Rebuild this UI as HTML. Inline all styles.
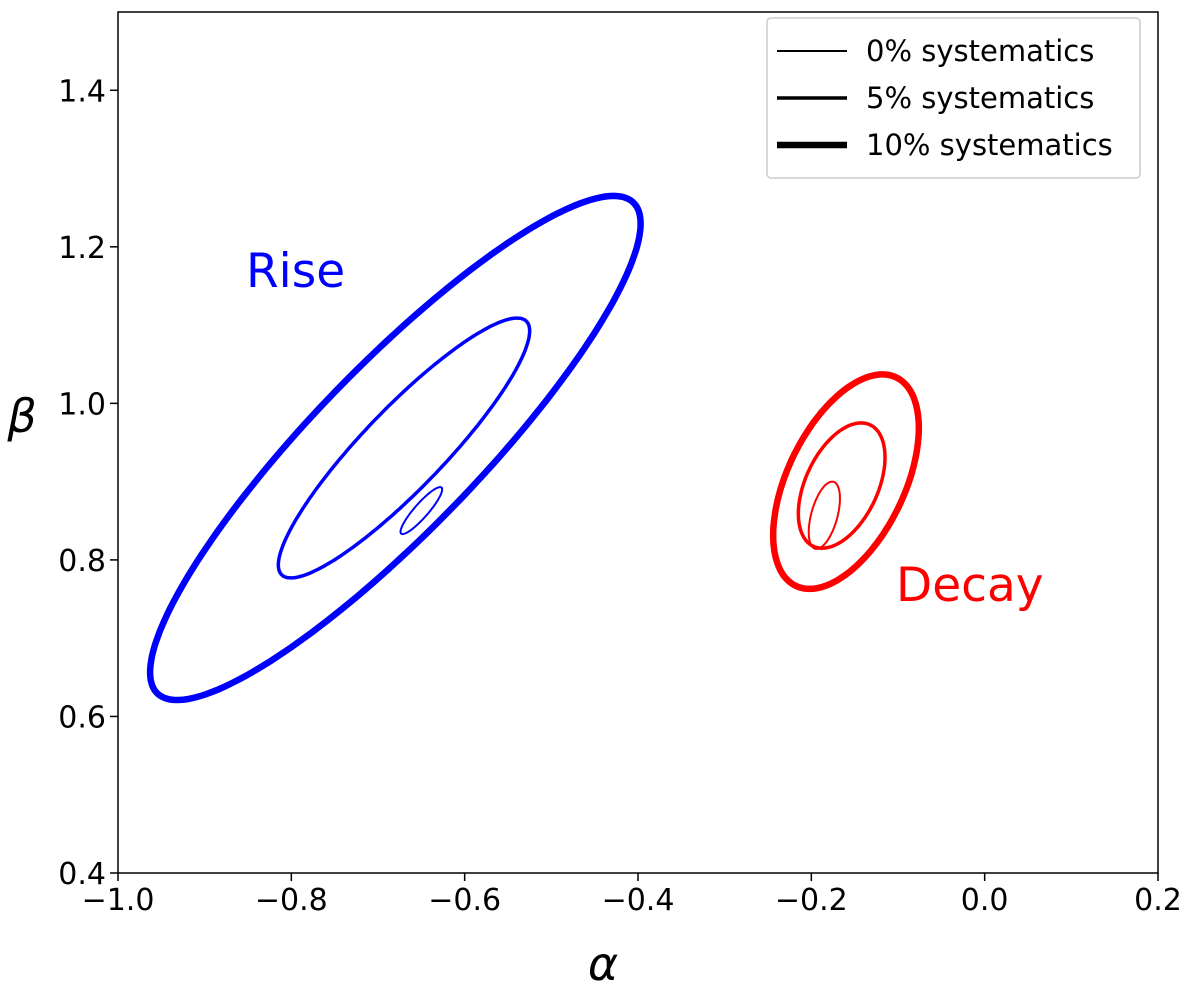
<!DOCTYPE html>
<html><head><meta charset="utf-8"><style>
body{margin:0;background:#fff}
svg text{font-family:"DejaVu Sans","Liberation Sans",sans-serif}
</style></head><body>
<svg id="c" width="1200" height="995" xmlns="http://www.w3.org/2000/svg"></svg>
<script>
const xTicks=[-1.0,-0.8,-0.6,-0.4,-0.2,0.0,0.2];
const xTickLabels=["\u22121.0","\u22120.8","\u22120.6","\u22120.4","\u22120.2","0.0","0.2"];
const yTicks=[0.4,0.6,0.8,1.0,1.2,1.4];
const yTickLabels=["0.4","0.6","0.8","1.0","1.2","1.4"];
const ellNames=["rise-10pct","rise-5pct","rise-0pct","decay-10pct","decay-5pct","decay-0pct"];
const ellCx=[-0.68,-0.67,-0.65,-0.16,-0.165,-0.185];
const ellCy=[0.943,0.943,0.863,0.90,0.895,0.857];
const ellSx=[0.283,0.145,0.024,0.084,0.05,0.018];
const ellSy=[0.322,0.166,0.030,0.137,0.08,0.043];
const ellRho=[0.89,0.90,0.90,0.5,0.45,0.5];
const ellSys=[10,5,0,10,5,0];
const ellColor=["#0000ff","#0000ff","#0000ff","#ff0000","#ff0000","#ff0000"];
const legendLabels=["0% systematics","5% systematics","10% systematics"];
const widthFor={0:2,5:3.5,10:6.5};

const L=118,R=1158,T=12,B=873;
const X=v=>L+(v-(-1.0))/(1.2)*(R-L);
const Y=v=>B-(v-0.4)/(1.1)*(B-T);
const svg=document.getElementById('c');
const NS="http://www.w3.org/2000/svg";
function mk(tag,attrs,parent){const e=document.createElementNS(NS,tag);for(const k in attrs)e.setAttribute(k,attrs[k]);(parent||svg).appendChild(e);return e;}

const clip=mk('clipPath',{id:'pc'});mk('rect',{x:L,y:T,width:R-L,height:B-T},clip);
const g=mk('g',{'clip-path':'url(#pc)'});


for(let i=0;i<ellCx.length;i++){
  let d='';
  for(let k=0;k<=200;k++){const t=k/200*2*Math.PI;
    const x=ellCx[i]+ellSx[i]*Math.cos(t);
    const y=ellCy[i]+ellSy[i]*(ellRho[i]*Math.cos(t)+Math.sqrt(1-ellRho[i]*ellRho[i])*Math.sin(t));
    d+=(k?'L':'M')+X(x).toFixed(1)+','+Y(y).toFixed(1);}
  const p=mk('path',{d:d+'Z',fill:'none',stroke:ellColor[i],'stroke-width':widthFor[ellSys[i]]},g);
  
  
}
const frame=mk('rect',{x:L,y:T,width:R-L,height:B-T,fill:'none',stroke:'#000','stroke-width':1.5});


xTicks.forEach((v,i)=>{
  mk('line',{x1:X(v),x2:X(v),y1:B,y2:B+8,stroke:'#000','stroke-width':1.5});
  const t=mk('text',{x:X(v),y:B+37,'font-size':30,'text-anchor':'middle'});t.textContent=xTickLabels[i];
  
  
});
yTicks.forEach((v,i)=>{
  mk('line',{x1:L-8,x2:L,y1:Y(v),y2:Y(v),stroke:'#000','stroke-width':1.5});
  const t=mk('text',{x:L-12,y:Y(v)+11,'font-size':30,'text-anchor':'end'});t.textContent=yTickLabels[i];
  
  
});
const xl=mk('text',{x:603,y:980,'font-size':46,'font-style':'italic','text-anchor':'middle'});xl.textContent='α';


const yl=mk('text',{x:22,y:432,'font-size':46,'font-style':'italic','text-anchor':'middle'});yl.textContent='β';


const rl=mk('text',{x:246,y:287,'font-size':47,fill:'#0000ff'});rl.textContent='Rise';


const dl=mk('text',{x:896,y:601,'font-size':47,fill:'#ff0000'});dl.textContent='Decay';


const lg=mk('g',{});


mk('rect',{x:767,y:18,width:373,height:160,rx:4,fill:'#fff',stroke:'#ccc','stroke-width':1.5},lg);
const lw=[2,3.5,6.5];
legendLabels.forEach((s,i)=>{
  const y=51+i*47;
  mk('line',{x1:777,x2:847,y1:y,y2:y,stroke:'#000','stroke-width':lw[i]},lg);
  const t=mk('text',{x:866,y:y+10,'font-size':29},lg);t.textContent=s;
  
  
});
</script>
</body></html>
